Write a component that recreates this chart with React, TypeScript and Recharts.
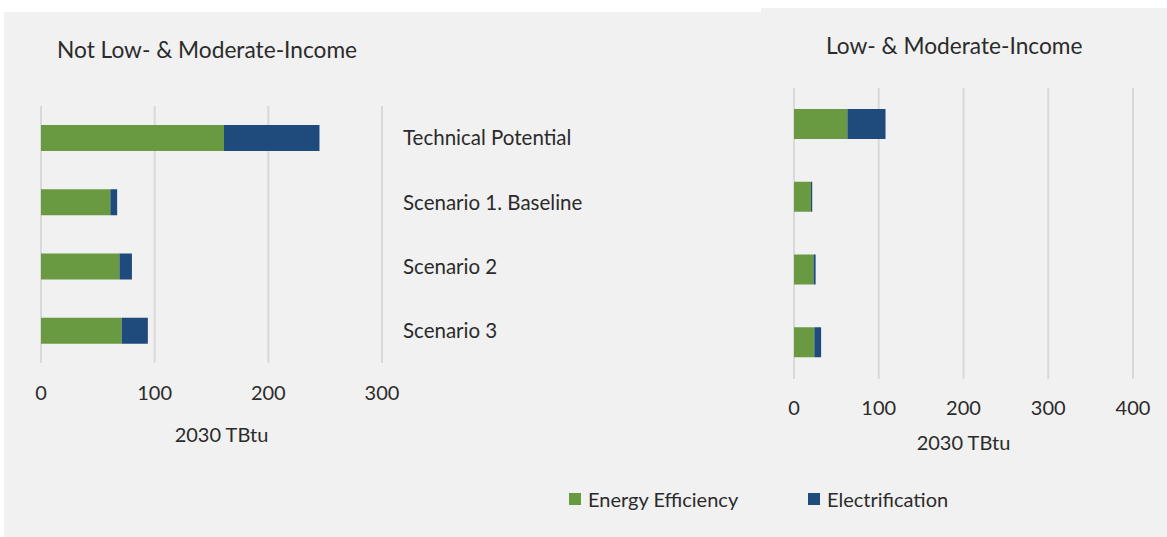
import { Bar, BarChart, CartesianGrid, XAxis, YAxis } from "recharts";

const categories = ["Technical Potential", "Scenario 1. Baseline", "Scenario 2", "Scenario 3"];

// 2030 TBtu savings by measure type
const notLmiEfficiency = [161, 61, 69, 71];
const notLmiElectrification = [84, 6, 11, 23];
const lmiEfficiency = [63, 20, 23, 24];
const lmiElectrification = [45, 1.5, 2.5, 8];

const notLmiTicks = [0, 100, 200, 300];
const lmiTicks = [0, 100, 200, 300, 400];

const series = [
  { key: "efficiency", name: "Energy Efficiency", color: "#699a41" },
  { key: "electrification", name: "Electrification", color: "#1f4a7c" },
];

const FONT = "Lato, 'Open Sans', sans-serif";
const TEXT = "#2b2b2b";
const PANEL = "#f1f1f1";
const GRID = "#d9d9d9";

const notLmiData = categories.map((name, i) => ({
  name,
  efficiency: notLmiEfficiency[i],
  electrification: notLmiElectrification[i],
}));

const lmiData = categories.map((name, i) => ({
  name,
  efficiency: lmiEfficiency[i],
  electrification: lmiElectrification[i],
}));

const tickStyle = { fontSize: 20, fill: TEXT, fontFamily: FONT };
const axisTitleStyle = { fontSize: 20, fill: TEXT, fontFamily: FONT };

export default function App() {
  return (
    <div
      style={{
        position: "absolute",
        left: 0,
        top: 0,
        width: 1167,
        height: 537,
        background: "#ffffff",
        fontFamily: FONT,
        color: TEXT,
        overflow: "hidden",
      }}
    >
      <div style={{ position: "absolute", left: 4, top: 12, width: 757, height: 525, background: PANEL }} />
      <div style={{ position: "absolute", left: 761, top: 8, width: 406, height: 529, background: PANEL }} />

      <div style={{ position: "absolute", left: 57, top: 36, fontSize: 22.7, whiteSpace: "nowrap" }}>
        Not Low- &amp; Moderate-Income
      </div>
      <div style={{ position: "absolute", left: 826, top: 32, fontSize: 22.7, whiteSpace: "nowrap" }}>
        Low- &amp; Moderate-Income
      </div>

      {/* left panel: category labels sit on the right-hand axis */}
      <div style={{ position: "absolute", left: 0, top: 0 }}>
        <BarChart
          width={760}
          height={537}
          data={notLmiData}
          layout="vertical"
          barSize={26}
          margin={{ top: 106, right: 0, bottom: 537 - 363 - 50, left: 41 }}
        >
          <CartesianGrid horizontal={false} stroke={GRID} strokeWidth={2} />
          <XAxis
            type="number"
            domain={[0, 300]}
            ticks={notLmiTicks}
            axisLine={false}
            tickLine={false}
            tickMargin={17}
            tick={tickStyle}
            height={50}
            label={{
              value: "2030 TBtu",
              position: "bottom",
              offset: 15,
              dx: 10,
              style: axisTitleStyle,
            }}
          />
          <YAxis
            type="category"
            dataKey="name"
            orientation="right"
            width={378}
            axisLine={false}
            tickLine={false}
            tickMargin={15}
            tick={{ ...tickStyle, fontSize: 20.5, textAnchor: "start" }}
          />
          {series.map((s) => (
            <Bar key={s.key} dataKey={s.key} name={s.name} stackId="a" fill={s.color} isAnimationActive={false} />
          ))}
        </BarChart>
      </div>

      {/* right panel */}
      <div style={{ position: "absolute", left: 761, top: 0 }}>
        <BarChart
          width={406}
          height={537}
          data={lmiData}
          layout="vertical"
          barSize={30}
          margin={{ top: 88, right: 34, bottom: 537 - 379 - 50, left: 33 }}
        >
          <CartesianGrid horizontal={false} stroke={GRID} strokeWidth={2} />
          <XAxis
            type="number"
            domain={[0, 400]}
            ticks={lmiTicks}
            axisLine={false}
            tickLine={false}
            tickMargin={16}
            tick={tickStyle}
            height={50}
            label={{
              value: "2030 TBtu",
              position: "bottom",
              offset: 7,
              style: axisTitleStyle,
            }}
          />
          <YAxis type="category" dataKey="name" hide />
          {series.map((s) => (
            <Bar key={s.key} dataKey={s.key} name={s.name} stackId="a" fill={s.color} isAnimationActive={false} />
          ))}
        </BarChart>
      </div>

      {/* shared legend */}
      {series.map((s, i) => (
        <div
          key={s.key}
          style={{
            position: "absolute",
            left: i === 0 ? 569 : 808,
            top: 487,
            display: "flex",
            alignItems: "center",
            fontSize: 20,
            whiteSpace: "nowrap",
          }}
        >
          <span style={{ display: "inline-block", width: 12, height: 12, background: s.color, marginRight: 7 }} />
          <span>{s.name}</span>
        </div>
      ))}
    </div>
  );
}
